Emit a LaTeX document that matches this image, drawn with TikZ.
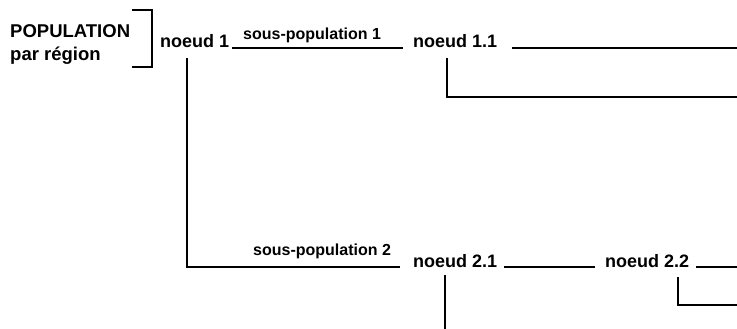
\documentclass[tikz,border=0pt]{standalone}
\usepackage{fontspec}
\setmainfont{Liberation Sans}
\begin{document}
\begin{tikzpicture}[x=1pt,y=-1pt,
  nd/.style={font=\fontsize{18}{20}\selectfont\bfseries, inner sep=0pt, anchor=base west},
  lab/.style={font=\fontsize{16}{18}\selectfont\bfseries, inner sep=0pt, anchor=base west},
  ln/.style={line width=1.3pt}]
\useasboundingbox (0,0) rectangle (737,329);
% title
\node[nd, font=\fontsize{18.5}{20}\selectfont\bfseries] (pop) at (10,38) {POPULATION};
\node[nd, font=\fontsize{18.5}{20}\selectfont\bfseries] (reg) at (10,61) {par région};
\draw[ln] (132,10) -- (152,10) -- (152,67) -- (132,67);
% nodes
\node[nd] (n1) at (160,48) {noeud 1};
\node[nd] (n11) at (413,48) {noeud 1.1};
\node[nd] (n21) at (413,267) {noeud 2.1};
\node[nd] (n22) at (605,267) {noeud 2.2};
% free ends
\coordinate (e11a) at (737,48);
\coordinate (e11b) at (737,97);
\coordinate (e21) at (445,329);
\coordinate (e22a) at (737,267);
\coordinate (e22b) at (737,305);
% labels
\node[lab] (s1) at (243,40) {sous-population 1};
\node[lab] (s2) at (253,255) {sous-population 2};
% connectors
\draw[ln] ([xshift=3pt]n1.base east) -- ([xshift=-10pt]n11.base west);
\draw[ln] (187,58) -- (187,267) -- ([xshift=-13pt]n21.base west);
\draw[ln] ([xshift=15pt]n11.base east) -- (e11a);
\draw[ln] (447,58) -- (447,97) -- (e11b);
\draw[ln] ([xshift=7pt]n21.base east) -- ([xshift=-10pt]n22.base west);
\draw[ln] (445,275) -- (e21);
\draw[ln] ([xshift=7pt]n22.base east) -- (e22a);
\draw[ln] (678,277) -- (678,305) -- (e22b);
\end{tikzpicture}
\end{document}
